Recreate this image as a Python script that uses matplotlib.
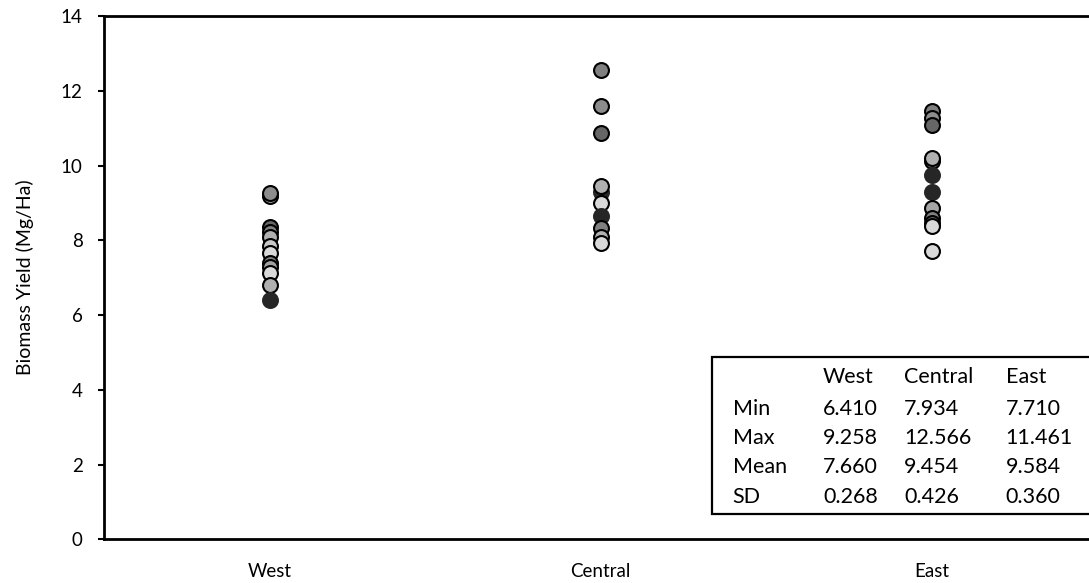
import matplotlib.pyplot as plt
from matplotlib.patches import Rectangle

plt.rcParams['font.family'] = ['Lato', 'DejaVu Sans']

regions = ["West", "Central", "East"]

# yield per plot (Mg/Ha) and the grey shade of each marker
west_yield = [9.18, 9.258, 8.36, 8.23, 8.09, 7.85, 7.66, 7.39, 7.29, 7.13, 6.81, 6.41]
west_shade = ["#a6a6a6", "#8c8c8c", "#666666", "#808080", "#b0b0b0", "#c8c8c8",
              "#d9d9d9", "#808080", "#a0a0a0", "#d9d9d9", "#b0b0b0", "#262626"]
central_yield = [12.566, 11.58, 10.87, 9.30, 9.44, 9.00, 8.66, 8.33, 8.10, 7.934]
central_shade = ["#808080", "#8c8c8c", "#666666", "#262626", "#b0b0b0", "#d9d9d9",
                 "#262626", "#808080", "#b0b0b0", "#d9d9d9"]
east_yield = [11.461, 11.27, 11.09, 10.11, 10.2, 9.75, 9.30, 8.86, 8.59, 8.47, 8.37, 7.71]
east_shade = ["#808080", "#8c8c8c", "#666666", "#808080", "#b0b0b0", "#262626",
              "#262626", "#a6a6a6", "#808080", "#666666", "#d9d9d9", "#d9d9d9"]

# summary table
stat_names = ["Min", "Max", "Mean", "SD"]
stat_west = ["6.410", "9.258", "7.660", "0.268"]
stat_central = ["7.934", "12.566", "9.454", "0.426"]
stat_east = ["7.710", "11.461", "9.584", "0.360"]

fig = plt.figure(figsize=(10.89, 5.83), dpi=100)
ax = fig.add_axes([104 / 1089, 43.7 / 583, 993 / 1089, 523.3 / 583])

groups = [(west_yield, west_shade), (central_yield, central_shade), (east_yield, east_shade)]
for i, (ys, cs) in enumerate(groups):
    for y, c in zip(ys, cs):
        ec = "black" if c != "#262626" else "#262626"
        ax.scatter([i], [y], s=115, c=c, edgecolors=ec, linewidths=1.5, zorder=3)

ax.set_xlim(-0.5, 2.5)
ax.set_ylim(0, 14)
ax.set_yticks(range(0, 15, 2))
ax.set_xticks(range(len(regions)))
ax.set_xticklabels(regions)
ax.tick_params(axis="x", length=0, pad=17, labelsize=13.5)
ax.tick_params(axis="y", length=4.3, width=1.5, direction="out", labelsize=13.5, pad=11)
ax.set_ylabel("Biomass Yield (Mg/Ha)", fontsize=14, labelpad=19)
for side in ["left", "bottom", "top"]:
    ax.spines[side].set_linewidth(2)
ax.spines["right"].set_visible(False)

# stats box
ax.add_patch(Rectangle((0.612, 0.048), 0.5, 0.300, transform=ax.transAxes,
                       facecolor="white", edgecolor="black", linewidth=1.6,
                       clip_on=False, zorder=4))
col_x = [0.724, 0.806, 0.908]
row_y = [0.249, 0.194, 0.138, 0.081]
for x, name in zip(col_x, regions):
    ax.text(x, 0.310, name, transform=ax.transAxes, fontsize=15.5, va="center", zorder=5)
for y, name, a, b, c in zip(row_y, stat_names, stat_west, stat_central, stat_east):
    ax.text(0.633, y, name, transform=ax.transAxes, fontsize=15.5, va="center", zorder=5)
    for x, v in zip(col_x, [a, b, c]):
        ax.text(x, y, v, transform=ax.transAxes, fontsize=15.5, va="center", zorder=5)

fig.savefig("out.png", dpi=100)
